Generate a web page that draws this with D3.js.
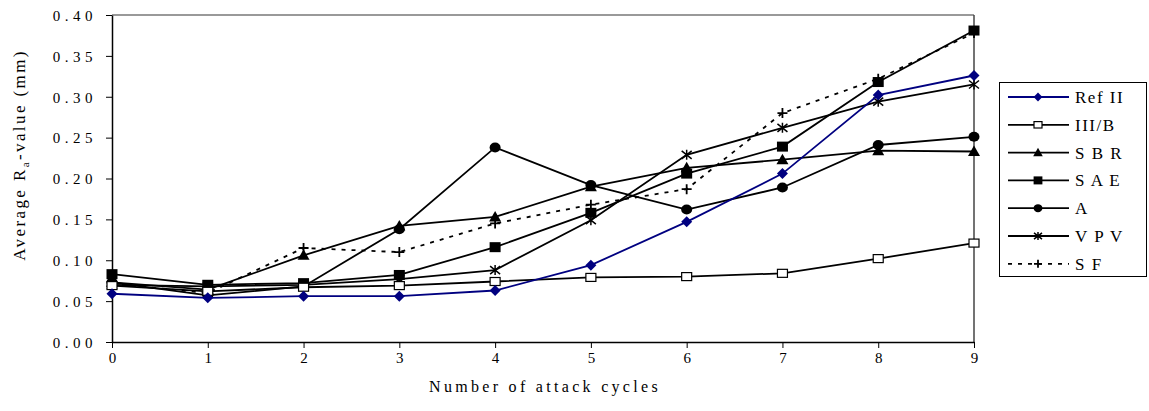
<!DOCTYPE html>
<html><head><meta charset="utf-8">
<script src="https://cdn.jsdelivr.net/npm/d3@7"></script>
<style>
body{margin:0;background:#fff;}
</style></head>
<body><svg id="c" width="1149" height="411" font-family="Liberation Serif"></svg>
<script>
const cycles = [0,1,2,3,4,5,6,7,8,9];
const yTicks = [0,0.05,0.10,0.15,0.20,0.25,0.30,0.35,0.40];
const seriesNames = ["Ref II","III/B","SBR","SAE","A","VPV","SF"];
const legendLabels = ["Ref II","III/B","S B R","S A E","A","V P V","S F"];
const refII = [0.059,0.054,0.056,0.056,0.063,0.094,0.147,0.206,0.302,0.326];
const iiiB  = [0.069,0.062,0.067,0.069,0.074,0.079,0.080,0.084,0.102,0.121];
const sbr   = [0.073,0.064,0.106,0.142,0.153,0.190,0.213,0.223,0.234,0.233];
const sae   = [0.083,0.070,0.072,0.082,0.116,0.158,0.206,0.239,0.318,0.381];
const aVals = [0.073,0.057,0.068,0.138,0.238,0.192,0.162,0.189,0.241,0.251];
const vpv   = [0.070,0.068,0.070,0.077,0.088,0.149,0.229,0.262,0.294,0.315];
const sf    = [0.071,0.060,0.115,0.110,0.145,0.168,0.187,0.280,0.322,0.378];

const data = [refII,iiiB,sbr,sae,aVals,vpv,sf];
const markers = ["diamond","openSquare","triangle","square","circle","asterisk","plus"];
const colors = ["#000080","#000","#000","#000","#000","#000","#000"];
const dashes = [null,null,null,null,null,null,"4,6"];
const FF = "Liberation Serif";

const svg = d3.select("#c");
const L=112,R=974,T=15,B=342;
const x = d3.scaleLinear().domain([0,9]).range([L,R]);
const y = d3.scaleLinear().domain([0,0.4]).range([B,T]);

// frame
svg.append("line").attr("x1",L).attr("x2",R).attr("y1",T).attr("y2",T).attr("stroke","#777").attr("stroke-width",1.5);
svg.append("line").attr("x1",R).attr("x2",R).attr("y1",T).attr("y2",B).attr("stroke","#444").attr("stroke-width",1.5);

const xAxis = svg.append("g").attr("transform",`translate(0,${B})`)
  .call(d3.axisBottom(x).tickValues(cycles).tickFormat(d3.format("d")).tickSize(6).tickSizeOuter(0));
const yAxis = svg.append("g").attr("transform",`translate(${L},0)`)
  .call(d3.axisLeft(y).tickValues(yTicks).tickFormat(d3.format(".2f")).tickSize(6).tickSizeOuter(0));
[xAxis,yAxis].forEach(g=>{
  g.attr("font-family",FF);
  g.select(".domain").attr("stroke","#000").attr("stroke-width",1.5);
  g.selectAll(".tick line").attr("stroke","#000").attr("stroke-width",1);
  g.selectAll(".tick text").attr("font-size",15).attr("fill","#000").attr("font-family",FF);
});
xAxis.selectAll(".tick text").attr("y",21).attr("dy",0).attr("dx",1.5).style("letter-spacing","3px");
yAxis.selectAll(".tick text").attr("x",-15).attr("dy","0.35em").style("letter-spacing","4.5px");

// axis titles
svg.append("text").attr("x",(L+R)/2+2).attr("y",392).attr("text-anchor","middle").attr("font-family",FF)
  .attr("font-size",16).style("letter-spacing","3.3px").text("Number of attack cycles");
const yt = svg.append("text").attr("transform","translate(25,155) rotate(-90)").attr("text-anchor","middle")
  .attr("font-family",FF).attr("font-size",17).style("letter-spacing","2.4px");
yt.append("tspan").text("Average R");
yt.append("tspan").attr("font-size",11).attr("dy",4).text("a");
yt.append("tspan").attr("dy",-4).text("-value (mm)");

function drawMarker(g,type,cx,cy,color,scale){
  const s=scale||1;
  if(type==="diamond"){
    g.append("path").attr("d",`M${cx},${cy-5.5*s}L${cx+5.5*s},${cy}L${cx},${cy+5.5*s}L${cx-5.5*s},${cy}Z`).attr("fill",color);
  } else if(type==="openSquare"){
    g.append("rect").attr("x",cx-5*s).attr("y",cy-4*s).attr("width",10*s).attr("height",8*s).attr("fill","#fff").attr("stroke","#000").attr("stroke-width",1.2);
  } else if(type==="square"){
    g.append("rect").attr("x",cx-5.5*s).attr("y",cy-5*s).attr("width",11*s).attr("height",10*s).attr("fill","#000");
  } else if(type==="triangle"){
    g.append("path").attr("d",`M${cx},${cy-6*s}L${cx+6*s},${cy+4.5*s}L${cx-6*s},${cy+4.5*s}Z`).attr("fill","#000");
  } else if(type==="circle"){
    g.append("ellipse").attr("cx",cx).attr("cy",cy).attr("rx",5.5*s).attr("ry",5*s).attr("fill","#000");
  } else if(type==="asterisk"){
    const r=5*s;
    g.append("path").attr("d",`M${cx-r},${cy-r*0.8}L${cx+r},${cy+r*0.8}M${cx-r},${cy+r*0.8}L${cx+r},${cy-r*0.8}M${cx},${cy-r}L${cx},${cy+r}`).attr("stroke","#000").attr("stroke-width",1.5);
  } else if(type==="plus"){
    const r=5*s;
    g.append("path").attr("d",`M${cx-r},${cy}L${cx+r},${cy}M${cx},${cy-r}L${cx},${cy+r}`).attr("stroke","#000").attr("stroke-width",1.8);
  }
}

const line = d3.line().x((d,i)=>x(cycles[i])).y(d=>y(d));
const order=[6,5,4,3,2,1,0];
order.forEach(k=>{
  const g=svg.append("g");
  const p=g.append("path").datum(data[k]).attr("d",line).attr("fill","none").attr("stroke",colors[k]).attr("stroke-width",1.8);
  if(dashes[k]) p.attr("stroke-dasharray",dashes[k]);
  data[k].forEach((v,i)=>drawMarker(g,markers[k],x(cycles[i]),y(v),colors[k],1));
});

// legend
const lg=svg.append("g");
lg.append("rect").attr("x",999.5).attr("y",82.5).attr("width",147).attr("height",194).attr("fill","#fff").attr("stroke","#000").attr("stroke-width",1);
seriesNames.forEach((n,k)=>{
  const yy=97+k*27.8;
  const ln=lg.append("line").attr("x1",1008).attr("x2",1069).attr("y1",yy).attr("y2",yy).attr("stroke",colors[k]).attr("stroke-width",1.8);
  if(dashes[k]) ln.attr("stroke-dasharray","4,6");
  drawMarker(lg,markers[k],1038,yy,colors[k],0.8);
  lg.append("text").attr("x",1075).attr("y",yy+6).attr("font-family",FF).attr("font-size",17).style("letter-spacing","1.5px").text(legendLabels[k]);
});
</script></body></html>
